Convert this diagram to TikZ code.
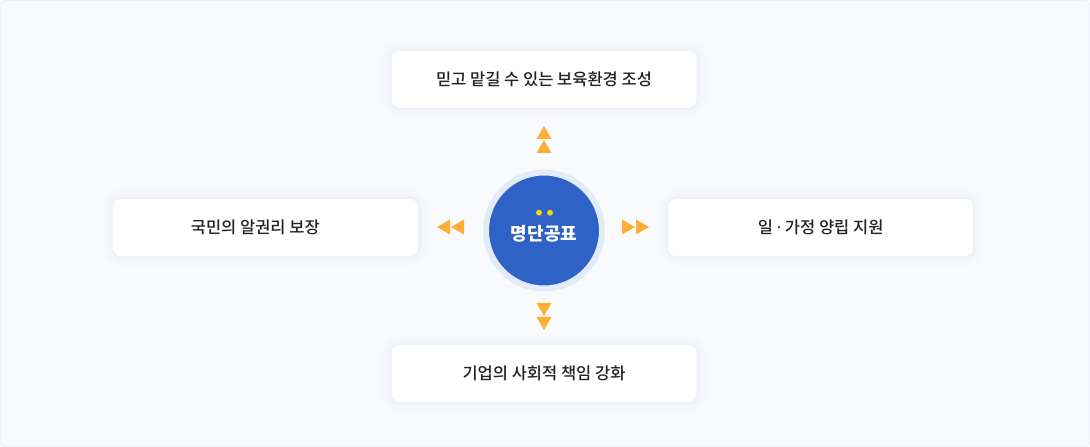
\documentclass[tikz,border=0pt]{standalone}
\usepackage{fontspec}
\setmainfont{Noto Sans CJK KR}
\newfontfamily\medfont{Noto Sans CJK KR Medium}
\newfontfamily\latinfont{Noto Sans}
\usepackage{tikz}
\usetikzlibrary{positioning}
\definecolor{pagebg}{HTML}{F8FAFE}
\definecolor{pageline}{HTML}{D9E3F5}
\definecolor{hubblue}{HTML}{2F62C6}
\definecolor{hubring}{HTML}{E3EAF8}
\definecolor{tipc}{HTML}{FFAD33}
\definecolor{dotc}{HTML}{FFD000}
\definecolor{textc}{HTML}{222222}
\definecolor{shadowc}{HTML}{7080A0}
\tikzset{
  goalbox/.style={rectangle, rounded corners=8pt, fill=white,
    minimum width=305pt, minimum height=57pt, inner sep=0pt,
    font=\medfont\fontsize{16.5}{20}\selectfont, text=textc,
    preaction={draw=shadowc, line width=20pt, opacity=0.012},
    preaction={draw=shadowc, line width=13pt, opacity=0.015},
    preaction={draw=shadowc, line width=7pt, opacity=0.02},
    preaction={draw=shadowc, line width=3pt, opacity=0.02}},
  hub/.style={circle, fill=hubblue, draw=hubring, line width=6pt,
    minimum size=116pt, inner sep=0pt},
}
\begin{document}
\begin{tikzpicture}[x=1pt, y=1pt]
    % frame
    \useasboundingbox (0,0) rectangle (1090,447);
    \draw[pageline, fill=pagebg, rounded corners=4pt] (0.5,0.5) rectangle (1089.5,446.5);
    % define nodes
    % hub
    \node[hub] (hub) at (544,216.5) {};
    \node[text=white, font=\fontsize{18}{21}\selectfont\bfseries] (hub_label) at (544,213) {명단공표};
    \fill[dotc] (539,234.3) circle[radius=3];
    \fill[dotc] (550,234.3) circle[radius=3];
    % goals
    \node[goalbox, above=61.5 of hub] (goal_top) {믿고 맡길 수 있는 보육환경 조성};
    \node[goalbox, left=65 of hub, yshift=3] (goal_left) {국민의 알권리 보장\hspace*{20pt}};
    \node[goalbox, right=63 of hub, yshift=3] (goal_right) {일 {\latinfont·} 가정 양립 지원};
    \node[goalbox, below=53.5 of hub] (goal_bottom) {기업의 사회적 책임 강화};
    % double tips towards the goals
    \foreach \x/\y/\ang in {544/294/90, 544/144/-90, 622/220/0, 464/220/180}{
      \begin{scope}[shift={(\x,\y)}, rotate=\ang]
        \fill[tipc] (0,-7.5) -- (13,0) -- (0,7.5) -- cycle;
        \fill[tipc] (14,-7.5) -- (27,0) -- (14,7.5) -- cycle;
      \end{scope}
    }
\end{tikzpicture}
\end{document}
